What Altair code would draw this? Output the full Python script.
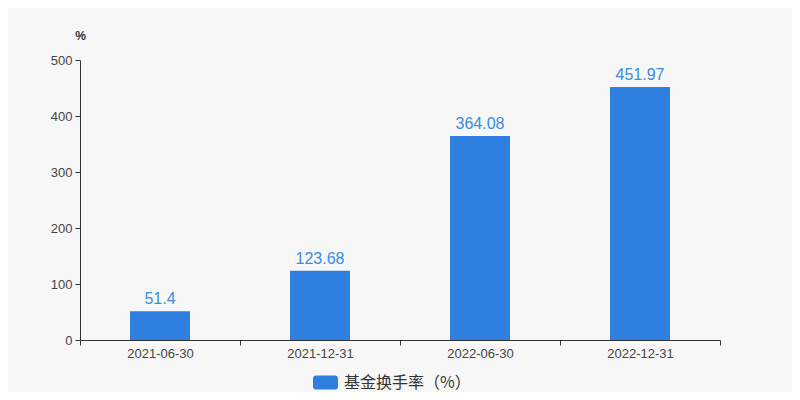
import altair as alt
import pandas as pd

dates = ["2021-06-30", "2021-12-31", "2022-06-30", "2022-12-31"]
values = [51.4, 123.68, 364.08, 451.97]
series = "基金换手率（%）"

df = pd.DataFrame({"date": dates, "value": values, "series": [series] * len(dates)})

FONT = "Liberation Sans, Noto Sans CJK SC, sans-serif"
CJK = "Noto Sans CJK SC, sans-serif"
BAR = "#2e7fe0"
TXT = "#444444"

rounded = ("M-0.75,-0.56 L0.75,-0.56 Q1,-0.56 1,-0.31 L1,0.31 Q1,0.56 0.75,0.56 "
           "L-0.75,0.56 Q-1,0.56 -1,0.31 L-1,-0.31 Q-1,-0.56 -0.75,-0.56 Z")

x = alt.X("date:N", sort=dates, title=None,
          scale=alt.Scale(paddingInner=0, paddingOuter=0),
          axis=alt.Axis(labelAngle=0, tickBand="extent", labelFontSize=13,
                        labelColor=TXT, domainColor="#333333", tickColor="#333333",
                        tickSize=5, labelPadding=2, grid=False, labelFont=FONT))

bars = alt.Chart(df).mark_bar(size=60).encode(
    x=x,
    y=alt.Y("value:Q", scale=alt.Scale(domain=[0, 500]),
            axis=alt.Axis(values=[0, 100, 200, 300, 400, 500], grid=False,
                          title="%", titleAngle=0, titleX=0, titleY=-18,
                          titleAlign="center", titleFontSize=12, titleFontWeight="bold",
                          titleColor="#333333", titleFont=FONT,
                          labelFontSize=13, labelColor=TXT, labelFont=FONT, labelPadding=3,
                          domainColor="#333333", tickColor="#333333", tickSize=5)),
    color=alt.Color("series:N", scale=alt.Scale(range=[BAR]),
                    legend=alt.Legend(title=None, orient="none", legendX=233, legendY=310,
                                      symbolType=rounded, symbolSize=625,
                                      symbolStrokeWidth=0, labelFontSize=16,
                                      labelColor="#333333", labelFont=CJK,
                                      padding=0, labelOffset=6)),
)

labels = alt.Chart(df).mark_text(dy=-4, baseline="bottom", fontSize=16, color="#3a8ae6",
                                 font=FONT).encode(
    x=alt.X("date:N", sort=dates),
    y="value:Q",
    text=alt.Text("value:Q"),
)

chart = (bars + labels).properties(
    width=640, height=280,
    background="#f7f7f7",
    padding={"left": 72, "top": 52, "right": 72, "bottom": 52},
    autosize=alt.AutoSizeParams(type="none"),
).configure_view(stroke=None)

chart.save("out.html", embed_options={"renderer": "svg", "actions": False})
